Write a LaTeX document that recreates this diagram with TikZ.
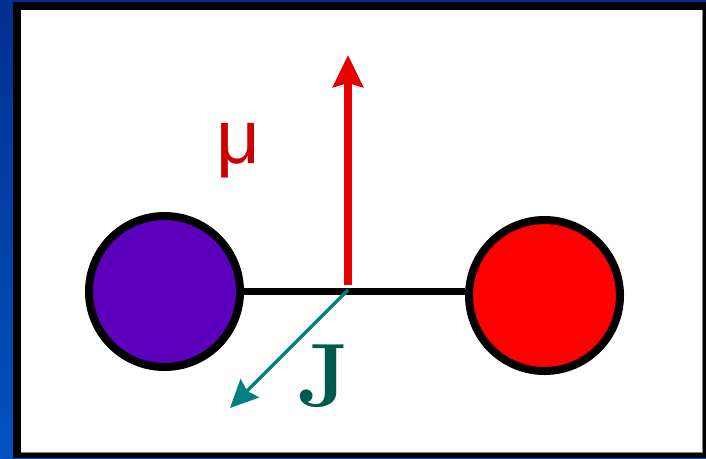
\documentclass[tikz,border=0pt]{standalone}
\usepackage{fontspec}
\newfontfamily\sansf{Liberation Sans}
\usetikzlibrary{arrows.meta}
\definecolor{bgtop}{HTML}{003090}
\definecolor{bgbot}{HTML}{0052C0}
\definecolor{purp}{HTML}{5C00BE}
\definecolor{redball}{HTML}{FF0000}
\definecolor{arrred}{HTML}{E60000}
\definecolor{muc}{HTML}{CC0000}
\definecolor{jc}{HTML}{005A4E}
\definecolor{teal}{HTML}{008080}
\tikzset{
  atom/.style={circle, draw=black, line width=8pt, minimum size=151pt, inner sep=0pt},
  bond/.style={draw=black, line width=7pt},
  muarrow/.style={draw=arrred, line width=8pt, -{Stealth[length=32pt,width=30pt,inset=4pt]}},
  jarrow/.style={draw=teal, line width=3.5pt, -{Stealth[length=28pt,width=26pt,inset=4pt]}},
  lbl/.style={inner sep=0pt}
}
\begin{document}
\begin{tikzpicture}[x=1pt,y=-1pt]
\useasboundingbox (0,0) rectangle (706,458);
\shade[top color=bgtop,bottom color=bgbot] (0,0) rectangle (706,458);
\fill[black] (13,2) rectangle (706,458);
\fill[white] (21,10) rectangle (702,452);
\draw[gray, line width=1pt] (702,10) -- (702,452) -- (21,452);
\node[atom, fill=purp] (A) at (164.5,291.5) {};
\node[atom, fill=redball] (B) at (544.5,295.5) {};
\draw[bond] (A.east) -- (A.east -| B.west);
\coordinate (mb) at (348,285);
\coordinate (mt) at (348,55);
\draw[muarrow] (mb) -- (mt);
\coordinate (jb) at (348,290);
\coordinate (jt) at (230,408);
\draw[jarrow] (jb) -- (jt);
\node[lbl, text=muc, font=\sansf\fontsize{76}{76}\selectfont] (mu) at (238.5,151) {μ};
\node[lbl, text=jc, font=\bfseries\fontsize{90}{90}\selectfont] (J) at (323.5,376.5) {J};
\end{tikzpicture}
\end{document}
